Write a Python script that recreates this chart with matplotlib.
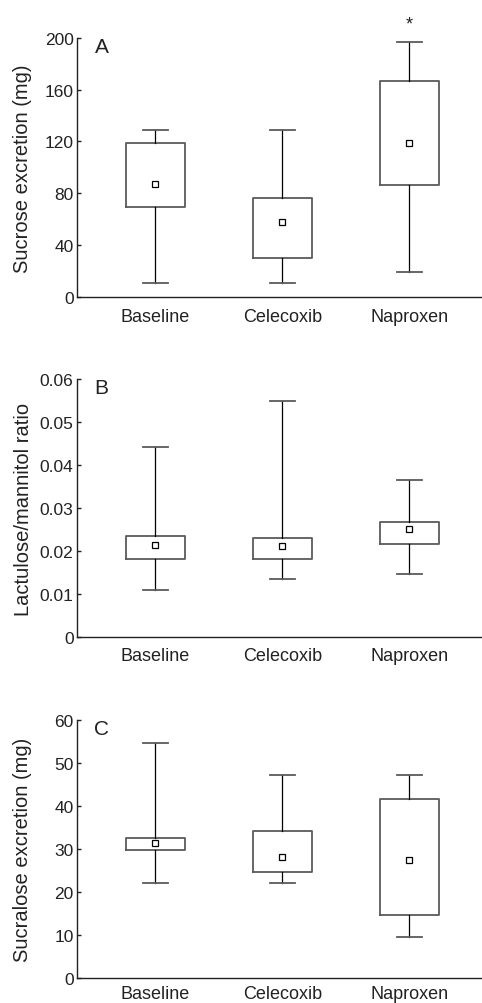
import matplotlib
matplotlib.use("Agg")
import matplotlib.pyplot as plt

plt.rcParams['font.family'] = ['Liberation Sans', 'DejaVu Sans']

categories = ["Baseline", "Celecoxib", "Naproxen"]

# Panel A: sucrose excretion (mg)
sucrose_whislo = [10.3, 10.3, 18.8]
sucrose_q1 = [69.3, 29.9, 86.3]
sucrose_center = [86.9, 57.5, 118.8]
sucrose_q3 = [118.6, 76.3, 167.0]
sucrose_whishi = [128.9, 128.9, 197.2]

# Panel B: lactulose/mannitol ratio
lm_whislo = [0.0109, 0.0135, 0.0146]
lm_q1 = [0.0183, 0.0182, 0.0216]
lm_center = [0.0214, 0.0212, 0.0251]
lm_q3 = [0.0236, 0.0231, 0.0268]
lm_whishi = [0.0443, 0.0549, 0.0365]

# Panel C: sucralose excretion (mg)
sucra_whislo = [22.2, 22.1, 9.6]
sucra_q1 = [29.7, 24.7, 14.6]
sucra_center = [31.5, 28.2, 27.4]
sucra_q3 = [32.7, 34.1, 41.6]
sucra_whishi = [54.7, 47.2, 47.2]

panels = [
    dict(letter="A", ylabel="Sucrose excretion (mg)", ylim=(0, 200),
         yticks=[0, 40, 80, 120, 160, 200], ticklabels=["0", "40", "80", "120", "160", "200"],
         lo=sucrose_whislo, q1=sucrose_q1, c=sucrose_center, q3=sucrose_q3, hi=sucrose_whishi,
         star=[None, None, "*"]),
    dict(letter="B", ylabel="Lactulose/mannitol ratio", ylim=(0, 0.06),
         yticks=[0, 0.01, 0.02, 0.03, 0.04, 0.05, 0.06],
         ticklabels=["0", "0.01", "0.02", "0.03", "0.04", "0.05", "0.06"],
         lo=lm_whislo, q1=lm_q1, c=lm_center, q3=lm_q3, hi=lm_whishi,
         star=[None, None, None]),
    dict(letter="C", ylabel="Sucralose excretion (mg)", ylim=(0, 60),
         yticks=[0, 10, 20, 30, 40, 50, 60], ticklabels=["0", "10", "20", "30", "40", "50", "60"],
         lo=sucra_whislo, q1=sucra_q1, c=sucra_center, q3=sucra_q3, hi=sucra_whishi,
         star=[None, None, None]),
]

W, H = 482, 1004
fig = plt.figure(figsize=(W / 100, H / 100), dpi=100)

axes_px = [(39, 297.7), (380, 638.3), (721, 979.3)]
left_px = 77
label_right_px = [31.7, 33.0, 32.0]
xpads = [8, 7, 5]

box_color = "#5a5a5a"
text_color = "#222222"

for p, (top, bot), lrp, xpad in zip(panels, axes_px, label_right_px, xpads):
    ax = fig.add_axes([left_px / W, 1 - bot / H, (W - left_px) / W, (bot - top) / H])
    stats = []
    for i, cat in enumerate(categories):
        stats.append(dict(label=cat, whislo=p["lo"][i], q1=p["q1"][i], med=p["c"][i],
                          q3=p["q3"][i], whishi=p["hi"][i], mean=p["c"][i], fliers=[]))
    positions = list(range(1, len(categories) + 1))
    ax.bxp(stats, positions=positions, widths=0.465, showmeans=True, showfliers=False,
           patch_artist=False,
           boxprops=dict(color=box_color, linewidth=1.3),
           whiskerprops=dict(color="black", linewidth=0.9),
           capprops=dict(color=box_color, linewidth=1.3),
           medianprops=dict(linewidth=0, alpha=0),
           meanprops=dict(marker="s", markerfacecolor="white", markeredgecolor="black",
                          markersize=4.5, markeredgewidth=0.9),
           capwidths=0.197)
    ax.set_xlim(0.3835, 3.572)
    ax.set_ylim(*p["ylim"])
    ax.set_yticks(p["yticks"])
    ax.set_yticklabels(p["ticklabels"])
    ax.set_xticks(positions)
    ax.set_xticklabels(categories)
    ax.spines["top"].set_visible(False)
    ax.spines["right"].set_visible(False)
    for s in ("left", "bottom"):
        ax.spines[s].set_linewidth(1.0)
        ax.spines[s].set_color(text_color)
    ax.tick_params(axis="y", direction="in", length=3, width=1.0, pad=2.5,
                   labelsize=12.5, colors=text_color)
    ax.tick_params(axis="x", length=0, pad=xpad, labelsize=13, colors=text_color)
    ax.set_ylabel(p["ylabel"], fontsize=14.5, color=text_color)
    ax.yaxis.set_label_coords(-(left_px - lrp) / (W - left_px), 0.5)
    ax.text(0.061, 0.966, p["letter"], transform=ax.transAxes, fontsize=15,
            ha="center", va="center", color=text_color)
    ymax = p["ylim"][1]
    for i, s in enumerate(p["star"]):
        if s:
            ax.text(positions[i], p["hi"][i] + 0.07 * ymax, s, ha="center", va="center",
                    fontsize=13, color=text_color, clip_on=False)

fig.savefig("out.png", dpi=100)
